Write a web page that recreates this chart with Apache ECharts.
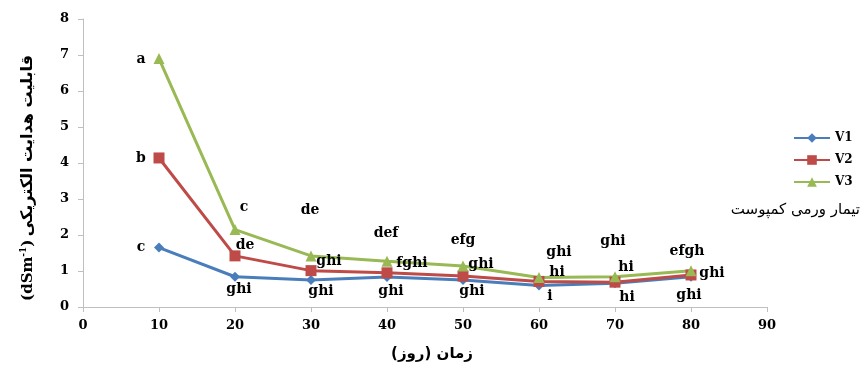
<!DOCTYPE html>
<html>
<head>
<meta charset="utf-8">
<script src="https://cdn.jsdelivr.net/npm/echarts@6/dist/echarts.min.js"></script>
<style>
  html, body { margin: 0; padding: 0; background: #ffffff; }
  #chart { width: 864px; height: 369px; }
</style>
</head>
<body>
<div id="chart"></div>
<script>
// Sampling days
const days = [10, 20, 30, 40, 50, 60, 70, 80];

// Electrical conductivity (dS/m) per vermicompost treatment
const v1 = [1.65, 0.84, 0.75, 0.83, 0.75, 0.60, 0.66, 0.84];
const v2 = [4.14, 1.42, 1.01, 0.95, 0.86, 0.71, 0.69, 0.89];
const v3 = [6.90, 2.15, 1.42, 1.27, 1.14, 0.82, 0.84, 1.01];

// Mean-comparison letters
const v1Letters = ['c', 'ghi', 'ghi', 'ghi', 'ghi', 'i', 'hi', 'ghi'];
const v2Letters = ['b', 'de', 'ghi', 'fghi', 'ghi', 'hi', 'hi', 'ghi'];
const v3Letters = ['a', 'c', 'de', 'def', 'efg', 'ghi', 'ghi', 'efgh'];

// Where each letter sits relative to its point (pixels)
const v1Nudge = [[-18, 0], [4, 13], [10, 11], [4, 14], [9, 11], [11, 11], [12, 14], [-2, 19]];
const v2Nudge = [[-18, 0], [10, -11], [18, -9], [25, -9], [18, -12], [18, -9], [11, -15], [21, -2]];
const v3Nudge = [[-18, 1], [9, -22], [-1, -46], [-1, -28], [0, -26], [20, -25], [-2, -35], [-4, -19]];

const serif = "'DejaVu Serif', 'Liberation Serif', serif";
const persian = "'DejaVu Sans', 'Noto Sans', sans-serif";

// Label position is relative to the symbol's box, so shift by half its size
function buildData(values, letters, nudge, size) {
  return days.map((d, i) => ({
    value: [d, values[i]],
    label: {
      formatter: letters[i],
      position: [size / 2 + nudge[i][0], size / 2 + nudge[i][1]]
    }
  }));
}

function lineSeries(name, color, symbol, size, values, letters, nudge) {
  return {
    name: name,
    type: 'line',
    data: buildData(values, letters, nudge, size),
    symbol: symbol,
    symbolSize: size,
    lineStyle: { color: color, width: 3 },
    itemStyle: { color: color },
    label: {
      show: true,
      align: 'center',
      verticalAlign: 'middle',
      color: '#000000',
      fontFamily: serif,
      fontWeight: 'bold',
      fontSize: 14
    },
    labelLayout: { hideOverlap: false },
    emphasis: { disabled: true },
    animation: false
  };
}

const chart = echarts.init(document.getElementById('chart'), null, { renderer: 'canvas' });

chart.setOption({
  backgroundColor: '#ffffff',
  animation: false,
  grid: { left: 83, right: 97, top: 19, bottom: 62, containLabel: false },
  legend: {
    orient: 'vertical',
    left: 788,
    top: 127,
    itemWidth: 36,
    itemHeight: 12,
    itemGap: 10,
    textStyle: { fontFamily: serif, fontWeight: 'bold', fontSize: 12, color: '#000000' },
    data: ['V1', 'V2', 'V3']
  },
  xAxis: {
    type: 'value',
    min: 0,
    max: 90,
    interval: 10,
    splitLine: { show: false },
    axisLine: { show: true, lineStyle: { color: '#bfbfbf', width: 1 } },
    axisTick: { show: true, length: 5, lineStyle: { color: '#bfbfbf' } },
    axisLabel: { margin: 12, fontFamily: serif, fontWeight: 'bold', fontSize: 13, color: '#000000' }
  },
  yAxis: {
    type: 'value',
    min: 0,
    max: 8,
    interval: 1,
    splitLine: { show: false },
    axisLine: { show: true, lineStyle: { color: '#bfbfbf', width: 1 } },
    axisTick: { show: true, length: 5, lineStyle: { color: '#bfbfbf' } },
    axisLabel: { margin: 14, fontFamily: serif, fontWeight: 'bold', fontSize: 13, color: '#000000' }
  },
  graphic: [
    {
      type: 'text',
      left: 'center',
      top: 347,
      style: {
        text: '\u200Fزمان (روز)\u200F',
        font: 'bold 15px ' + persian,
        fill: '#000000'
      }
    },
    {
      type: 'text',
      x: 28,
      y: 178,
      rotation: Math.PI / 2,
      style: {
        text: '{a|(dSm}{s|-1}{a|)} {b|قابلیت هدایت الکتریکی}',
        align: 'center',
        verticalAlign: 'middle',
        fill: '#000000',
        rich: {
          a: { fontFamily: serif, fontWeight: 'bold', fontSize: 15, fill: '#000000' },
          s: { fontFamily: serif, fontWeight: 'bold', fontSize: 9, verticalAlign: 'top', padding: [0, 0, 8, 0], fill: '#000000' },
          b: { fontFamily: persian, fontWeight: 'bold', fontSize: 16, fill: '#000000' }
        }
      }
    },
    {
      type: 'text',
      right: 4,
      top: 203,
      style: {
        text: 'تیمار ورمی کمپوست',
        font: '15px ' + persian,
        fill: '#000000'
      }
    }
  ],
  series: [
    lineSeries('V1', '#4a7ebb', 'diamond', 10, v1, v1Letters, v1Nudge),
    lineSeries('V2', '#be4b48', 'rect', 11, v2, v2Letters, v2Nudge),
    lineSeries('V3', '#98b954', 'triangle', 11, v3, v3Letters, v3Nudge)
  ]
});
</script>
</body>
</html>
